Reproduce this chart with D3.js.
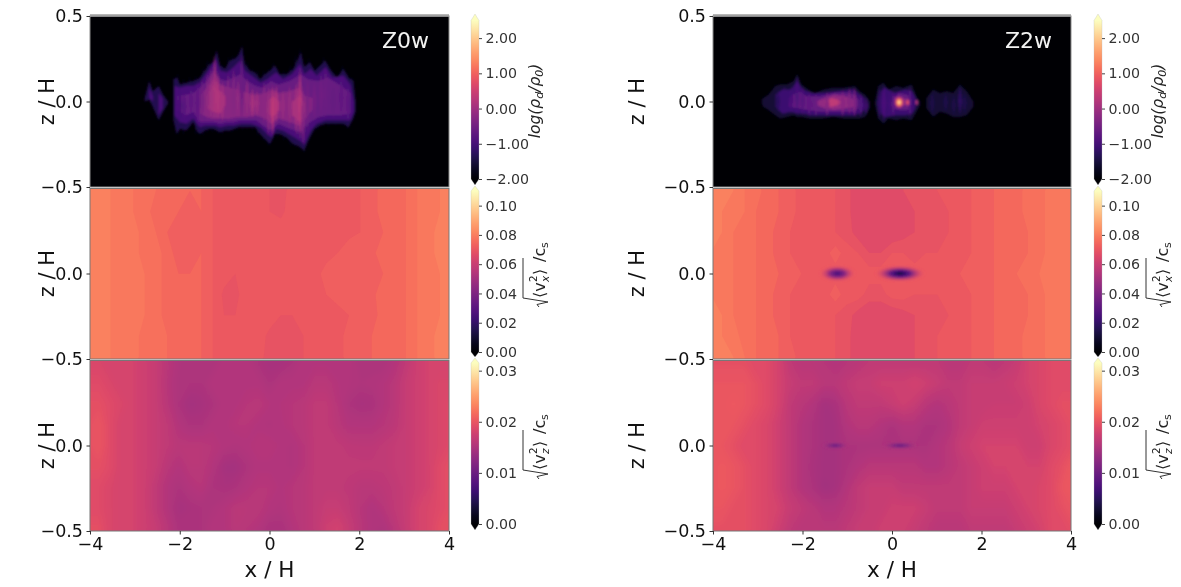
<!DOCTYPE html>
<html>

<head>
    <meta charset="utf-8">
    <style>
        body {
            margin: 0;
            background: white;
        }

        svg {
            display: block;
            font-family: 'DejaVu Sans', sans-serif;
            filter: blur(0.35px);
        }

        .panel-axis text {
            font-family: 'DejaVu Sans', sans-serif;
            font-size: 17.5px;
            fill: #111;
        }

        .panel-axis line {
            stroke: #333;
        }

        .panel-axis .domain {
            display: none;
        }

        .cbar-axis text {
            font-family: 'DejaVu Sans', sans-serif;
            font-size: 14.2px;
            fill: #333;
        }

        .cbar-axis line {
            stroke: #444;
        }

        .cbar-axis .domain {
            display: none;
        }
    </style>
</head>

<body>
    <svg width="1181" height="587"></svg>

    <script src="https://d3js.org/d3.v7.min.js"></script>

    <script>
        // tick labels
        let xTicks = [-4, -2, 0, 2, 4];
        let zTicks = [-0.5, 0, 0.5];
        let rhoTicks = [-2, -1, 0, 1, 2];
        let vxTicks = [0, 20, 40, 60, 80, 100];   // 1e-3 c_s
        let vzTicks = [0, 10, 20, 30];            // 1e-3 c_s

        // log density outlines, each blob is a list of [x, z top, z bottom]
        let z0Outer = [
            [[-2.78, .02, 0], [-2.68, .12, .01], [-2.6, .06, -.03], [-2.47, .09, -.11], [-2.37, .04, -.06], [-2.26, 0, -.01]],
            [[-2.14, .13, -.11], [-2.07, .14, -.19], [-1.99, .10, -.16], [-1.85, .11, -.17], [-1.70, .12, -.12], [-1.60, .13, -.18],
            [-1.55, .14, -.19], [-1.44, .18, -.17], [-1.33, .22, -.16], [-1.25, .23, -.16], [-1.18, .30, -.17], [-1.10, .21, -.18],
            [-.99, .19, -.17], [-.88, .24, -.17], [-.77, .25, -.16], [-.69, .27, -.15], [-.62, .32, -.15], [-.55, .22, -.15],
            [-.43, .18, -.15], [-.32, .17, -.15], [-.21, .13, -.19], [-.10, .16, -.22], [.01, .18, -.25], [.12, .21, -.19],
            [.23, .16, -.19], [.38, .16, -.21], [.53, .19, -.25], [.64, .25, -.26], [.70, .29, -.27], [.77, .20, -.29],
            [.90, .23, -.21], [1.01, .18, -.16], [1.13, .21, -.14], [1.24, .24, -.13], [1.35, .19, -.13], [1.50, .14, -.13],
            [1.65, .19, -.13], [1.76, .14, -.15], [1.87, .12, -.10], [1.92, 0, -.06]]
        ];
        let z0Mid = [
            [[-2.68, .08, .02], [-2.6, .03, 0]],
            [[-2.47, .05, -.08], [-2.38, .02, -.04]],
            [[-2.12, .09, -.08], [-2.0, .08, -.12], [-1.85, .09, -.13], [-1.7, .09, -.10], [-1.55, .11, -.15], [-1.44, .15, -.14],
            [-1.33, .19, -.14], [-1.2, .25, -.14], [-1.1, .18, -.15], [-.95, .17, -.14], [-.8, .2, -.14], [-.65, .24, -.13],
            [-.55, .18, -.13], [-.4, .15, -.13], [-.2, .11, -.15], [-.05, .13, -.19], [.05, .15, -.21], [.15, .17, -.16],
            [.3, .13, -.17], [.5, .16, -.2], [.68, .22, -.23], [.78, .16, -.25], [.92, .19, -.17], [1.05, .15, -.13],
            [1.25, .2, -.11], [1.4, .14, -.11], [1.65, .15, -.11], [1.8, .1, -.11], [1.88, 0, -.06]]
        ];
        let z0Inner = [
            [[-2.05, .03, -.05], [-1.85, .04, -.08], [-1.7, .05, -.06], [-1.55, .08, -.12], [-1.4, .12, -.12], [-1.25, .18, -.12],
            [-1.1, .13, -.13], [-.95, .12, -.12], [-.8, .14, -.12], [-.65, .16, -.11], [-.5, .12, -.11], [-.3, .09, -.11],
            [-.15, .08, -.14], [.03, .12, -.17], [.2, .1, -.13], [.45, .12, -.16], [.7, .16, -.18], [.85, .13, -.13],
            [1.1, .12, -.09], [1.3, .14, -.08], [1.6, .09, -.08], [1.8, .05, -.07]]
        ];
        let z0Bright = [
            [[-1.55, .03, -.07], [-1.4, .08, -.09], [-1.25, .13, -.1], [-1.1, .1, -.1], [-.9, .08, -.1], [-.7, .07, -.09],
            [-.5, .05, -.09], [-.3, .04, -.08], [-.1, .05, -.1], [.05, .07, -.13], [.2, .05, -.1], [.45, .06, -.12],
            [.65, .08, -.14], [.8, .03, -.1], [.95, .02, -.05]]
        ];
        let z0Core = [
            [[-1.4, .03, -.04], [-1.25, .1, -.06], [-1.1, .06, -.07], [-.98, .03, -.02]],
            [[-.05, 0, -.07], [.08, .03, -.09], [.22, 0, -.05]],
            [[.5, 0, -.08], [.68, .03, -.12], [.8, -.01, -.06]]
        ];
        let z0Levels = [-1.35, -0.95, -0.6, -0.25, 0.1];

        // thin vertical streaks on top: [x, z top, z bottom, log density]
        let z0Streaks = [
            // faint spikes past the outline
            [-2.04, .17, -.2, -1.55], [-1.92, .14, -.2, -1.55], [-1.78, .15, -.16, -1.55], [-1.64, .16, -.2, -1.55], [-1.48, .21, -.21, -1.5],
            [-1.38, .25, -.19, -1.5], [-1.28, .27, -.19, -1.5], [-1.14, .26, -.2, -1.5], [-1.04, .23, -.2, -1.55], [-.92, .27, -.19, -1.5],
            [-.82, .28, -.19, -1.5], [-.72, .29, -.18, -1.5], [-.6, .34, -.18, -1.5], [-.5, .24, -.17, -1.55], [-.38, .2, -.18, -1.55],
            [-.26, .19, -.21, -1.55], [-.14, .19, -.24, -1.5], [-.03, .2, -.27, -1.5], [.08, .24, -.24, -1.5], [.18, .2, -.22, -1.55],
            [.32, .19, -.24, -1.55], [.46, .22, -.27, -1.5], [.58, .28, -.28, -1.5], [.68, .32, -.29, -1.5], [.78, .23, -.31, -1.5],
            [.88, .26, -.23, -1.5], [1.06, .22, -.18, -1.55], [1.2, .27, -.16, -1.5], [1.32, .22, -.16, -1.55], [1.48, .17, -.15, -1.6],
            [1.62, .22, -.15, -1.55], [1.74, .17, -.17, -1.55], [1.85, .15, -.12, -1.6],
            // brighter columns inside the body
            [-2.0, .10, -.14, -1.0], [-1.9, .06, -.12, -.85], [-1.75, .08, -.08, -.75], [-1.6, .12, -.14, -.7], [-1.5, .14, -.13, -.45],
            [-1.38, .17, -.12, -.2], [-1.3, .2, -.12, 0], [-1.22, .27, -.12, .15], [-1.15, .18, -.12, .2], [-1.05, .12, -.12, .1],
            [-.92, .17, -.13, -.25], [-.8, .2, -.12, -.3], [-.7, .14, -.1, -.15], [-.62, .28, -.12, -.55], [-.5, .14, -.1, -.1],
            [-.38, .08, -.1, .15], [-.28, .07, -.09, .05], [-.12, .12, -.14, -.2], [-.02, .1, -.2, -.05], [.07, .1, -.2, .35],
            [.15, .1, -.13, .25], [.3, .07, -.12, -.05], [.45, .1, -.15, -.1], [.6, .12, -.2, .1], [.68, .2, -.22, .25],
            [.75, .1, -.26, -.25], [.85, .14, -.18, -.45], [1.0, .12, -.11, -.45], [1.15, .17, -.1, -.5], [1.25, .2, -.1, -.55],
            [1.42, .1, -.1, -.65], [1.6, .15, -.1, -.7], [1.75, .1, -.12, -.75]
        ];

        let z2Outer = [
            [[-2.91, .01, -.01], [-2.88, .02, -.03], [-2.76, .04, -.05], [-2.61, .09, -.08], [-2.5, .10, -.10], [-2.35, .10, -.09],
            [-2.2, .12, -.08], [-2.12, .16, -.09], [-2.02, .10, -.09], [-1.87, .07, -.10], [-1.72, .05, -.10], [-1.53, .07, -.10],
            [-1.31, .08, -.09], [-1.09, .08, -.10], [-.83, .09, -.10], [-.72, .06, -.10], [-.6, .04, -.09], [-.49, 0, -.04]],
            [[-.38, 0, -.02], [-.31, .09, -.10], [-.19, .11, -.13], [-.08, .07, -.10], [.1, .09, -.11], [.25, .08, -.10],
            [.44, .10, -.11], [.55, .03, -.06], [.63, 0, -.02]],
            [[.77, .02, -.04], [.92, .07, -.09], [1.07, .05, -.06], [1.22, .06, -.07], [1.37, .05, -.09], [1.52, .10, -.09],
            [1.67, .06, -.08], [1.82, 0, -.03]]
        ];
        let z2Mid = [
            [[-2.6, .04, -.03], [-2.45, .07, -.07], [-2.25, .07, -.06], [-2.12, .12, -.07], [-2.0, .07, -.07], [-1.8, .05, -.08],
            [-1.5, .05, -.08], [-1.2, .06, -.08], [-.85, .07, -.08], [-.72, .04, -.07], [-.62, .02, -.05]],
            [[-.25, .06, -.07], [-.15, .08, -.09], [.05, .05, -.08], [.3, .07, -.08], [.45, .06, -.07], [.52, .02, -.04]]
        ];
        let z2Inner = [
            [[-2.3, .02, -.03], [-2.1, .06, -.04], [-1.9, .03, -.05], [-1.6, .03, -.06], [-1.3, .05, -.06], [-1.0, .05, -.06],
            [-.82, .04, -.06], [-.75, .01, -.03]],
            [[.02, .02, -.04], [.15, .05, -.05], [.35, .04, -.05], [.42, .01, -.02]]
        ];
        let z2Bright = [
            [[-1.7, 0, -.02], [-1.5, .02, -.04], [-1.3, .04, -.05], [-1.05, .03, -.04], [-.85, .01, -.03]],
            [[.05, .02, -.02], [.18, .03, -.03], [.32, .01, -.02]]
        ];
        let z2Core = [
            [[-1.5, 0, -.02], [-1.35, .02, -.03], [-1.2, .01, -.02]]
        ];
        let z2Levels = [-1.55, -1.1, -0.65, -0.15, 0.35];
        let z2Streaks = [
            [-2.55, .07, -.07, -1.3], [-2.4, .09, -.08, -1.1], [-2.25, .09, -.07, -1.0], [-2.12, .15, -.08, -.95], [-2.0, .09, -.08, -.85],
            [-1.85, .06, -.09, -.7], [-1.7, .05, -.09, -.6], [-1.45, .06, -.09, -.35], [-1.1, .07, -.09, -.25], [-.95, .08, -.08, -.3],
            [-.84, .08, -.09, -.3], [-.7, .05, -.09, -.8], [-.58, .03, -.08, -1.0], [-.28, .08, -.1, -1.1], [-.18, .1, -.12, -.9],
            [-.05, .06, -.09, -1.0], [.03, .06, -.09, -.7], [.4, .09, -.1, -.8], [.5, .04, -.05, -1.1],
            [.9, .06, -.08, -1.4], [1.05, .04, -.05, -1.5], [1.2, .05, -.06, -1.35], [1.38, .04, -.08, -1.4], [1.52, .09, -.08, -1.2], [1.62, .05, -.07, -1.35]
        ];

        // small bright or dark spots: [x, z, half width, half height, value]
        let z2RhoSpots = [[.16, -.005, .12, .04, 2.35], [.35, -.005, .055, .028, 1.0], [.55, -.005, .04, .022, .4], [-1.18, -.005, .04, .022, .45]];
        let z2VxSpots = [[-1.22, 0, .42, .05, 24], [.18, 0, .58, .05, 10]];
        let z2VzSpots = [[-1.27, 0, .32, .024, 10], [.18, 0, .42, .024, 10]];

        // velocity maps, rows from z = 0.5 down to z = -0.5, columns from x = -4 to x = 4 (1e-3 c_s)
        let vxZ0 = [
            [81, 80, 80, 79, 78, 77, 76, 75, 74, 74, 74, 72, 71, 71, 71, 71, 70, 69, 71, 71, 71, 71, 71, 71, 72, 73, 75, 75, 76, 78, 79, 80, 81],
            [82, 81, 80, 79, 78, 77, 75, 74, 74, 73, 74, 72, 71, 71, 71, 71, 70, 69.5, 71, 71, 71, 71, 71, 71, 72, 73, 75, 75, 76, 78, 79, 80, 81],
            [82, 81, 80, 79, 79, 77, 76, 74, 73, 72.5, 73, 72, 70.5, 71, 71, 71, 71, 71, 70.5, 71, 71, 71, 71, 71.5, 72, 72.5, 74, 75, 76, 78, 79, 81, 82],
            [82, 81, 80, 79, 79, 77, 77, 75, 73, 72, 74, 72, 70.5, 71, 71, 71, 70, 71, 71, 71, 71, 71, 72, 73, 74, 73.5, 75, 75, 76, 78, 79, 81, 82],
            [81, 81, 80, 79, 79, 78, 77, 75, 74, 74, 74, 72, 71, 70, 71, 71, 70, 71, 71, 71, 71, 73, 74, 73, 74, 73.5, 74, 75, 76, 78, 79, 80, 81],
            [81, 81, 80, 79, 79, 78, 77, 75, 74, 74, 74, 72, 69.5, 69.5, 71, 71, 71, 71, 71, 71, 71, 72, 73, 72, 72.5, 73.5, 75, 75, 76, 78, 79, 80, 81],
            [82, 81, 80, 79, 79, 78, 77, 75, 74, 74, 74, 72, 70, 70, 71, 71, 71, 70, 70, 71, 71, 71, 71, 72, 73, 73, 75, 75, 76, 78, 79, 80, 82],
            [82, 81, 80, 79, 79, 77, 77, 76, 75, 74, 74, 72, 71, 71, 71, 71, 69.5, 69, 69, 70, 71, 71, 71, 73, 72.5, 74, 75, 75, 76, 78, 79, 81, 82],
            [82, 81, 80, 79, 79, 77, 77, 76, 75, 74, 74, 72, 71, 71, 71, 71, 69, 68.5, 69, 70, 71, 71, 71, 73, 73, 74, 75, 75, 76, 78, 79, 81, 82]
        ];
        let vxZ2 = [
            [80, 80, 80, 78, 77, 75, 74, 73, 71, 70, 70, 70, 69, 66, 66, 66, 66, 68, 68, 69, 70, 70, 70, 72, 73, 74, 75, 75, 77, 77, 79, 79, 79],
            [80, 80, 79, 78, 76, 75, 74, 73, 71, 70, 70, 70, 69, 66, 66, 66, 66, 67, 68, 68, 69, 70, 70, 72, 73, 74, 75, 75, 77, 77, 79, 79, 79],
            [80, 80, 78, 77, 76, 75, 73, 72, 71, 70, 70, 70, 69, 67, 66, 66, 66, 67, 68, 68, 69, 70, 70, 72, 73, 74, 75, 75, 76, 77, 79, 79, 79],
            [80, 79, 78, 77, 76, 75, 73, 72, 71, 71, 71, 73, 71, 70, 68, 68, 70, 70, 69, 70, 70, 71, 71, 72, 73, 74, 75, 75, 76, 77, 79, 79, 79],
            [80, 79, 78, 77, 76, 75, 74, 73, 72, 71, 71, 71, 71, 71, 71, 71, 71, 71, 71, 71, 71, 71, 72, 72, 73, 74, 75, 76, 77, 78, 79, 79, 79],
            [80, 79, 78, 77, 76, 75, 73, 72, 71, 71, 71, 73, 71, 71, 69, 69, 71, 71, 70, 70, 70, 71, 71, 72, 73, 74, 75, 75, 76, 77, 79, 79, 79],
            [80, 80, 78, 77, 76, 75, 73, 72, 71, 70, 70, 70, 69, 67, 66, 66, 66, 67, 68, 69, 69, 70, 71, 72, 73, 74, 75, 75, 76, 77, 79, 79, 79],
            [80, 80, 79, 77, 76, 75, 74, 72, 71, 70, 70, 70, 69, 66, 66, 66, 66, 66, 68, 69, 70, 70, 70, 72, 73, 74, 75, 75, 77, 77, 79, 79, 79],
            [80, 80, 80, 78, 76, 75, 74, 73, 71, 70, 70, 70, 69, 66, 66, 66, 66, 66, 68, 69, 70, 70, 70, 72, 73, 74, 75, 75, 77, 77, 79, 79, 79]
        ];
        let vzZ0 = [
            [18.5, 18.5, 18, 18, 18, 17.5, 17, 16, 15.2, 15, 15, 15, 15.5, 15.5, 15.5, 15, 14.6, 14.6, 15, 15.5, 15.5, 15.5, 15.5, 15.5, 15, 15, 15, 15.5, 16.5, 17.5, 18, 18, 18],
            [19, 19, 18.5, 18, 18, 17.5, 17, 15.8, 15, 15, 15, 15.5, 15.5, 15.5, 15.5, 15.5, 15, 15.5, 15.5, 15.5, 16, 16, 15.6, 15.4, 15.2, 15.3, 15.5, 16, 17, 17.5, 18, 18.5, 18.5],
            [19.5, 19.5, 19, 18.5, 18, 17.5, 17, 16, 15, 14.4, 14.6, 15, 15.5, 15.5, 15.8, 16, 15.6, 15.6, 15.8, 16, 16.5, 16.5, 15.8, 15, 14.7, 14.8, 15.5, 16, 17, 17.5, 18, 18.5, 19],
            [19.5, 20, 19, 18, 18, 17.5, 17, 16.5, 15.5, 15, 15, 15.5, 15.5, 15.8, 15.8, 15.5, 15.3, 15.5, 15.8, 16, 16.5, 16.5, 16, 15.5, 15.5, 15.5, 15.8, 16.2, 17, 17.5, 18, 18.5, 19],
            [19.5, 20, 19, 18, 18, 17.5, 17, 16.5, 16, 16, 16, 15.8, 15.5, 15.3, 15.5, 15.8, 15.8, 15.5, 15.3, 15.8, 16.5, 16.5, 16.5, 16.3, 16.2, 16.2, 16.5, 16.8, 17, 17.5, 18, 18.5, 19],
            [19.5, 19.5, 19, 18, 18, 17.5, 17, 16, 15.5, 16, 16, 15.5, 14.5, 14.4, 15, 15.5, 15.5, 15.5, 15.3, 15.8, 16.5, 16.5, 16.5, 16.5, 16.5, 16.5, 16.5, 16.8, 17, 17.5, 18, 19, 19.5],
            [19, 19, 18.5, 18, 18, 17.5, 16.5, 15.5, 15, 15.5, 15.8, 15, 14.8, 15, 15.5, 15.8, 15.8, 15.5, 15.8, 16, 16.5, 16.5, 16.5, 16.3, 16, 16, 16.2, 16.5, 17, 17.5, 18, 19, 19.5],
            [19, 19, 18.5, 18, 18, 17.5, 16.5, 15.5, 14.6, 14.8, 15, 15.2, 15.5, 16, 16, 16, 15.5, 15.3, 15.8, 16, 16.5, 17, 17, 16.5, 15.8, 15.3, 15.8, 16.5, 17, 18, 18.5, 19, 19.5],
            [19.5, 19.5, 18.5, 18, 18, 17.5, 17, 16, 15, 14.8, 15, 15.5, 15.5, 16, 15.8, 15.5, 14.8, 14.8, 15.5, 16, 16.5, 17.5, 18, 17, 16, 15.3, 15, 16, 17, 18, 18.5, 19.5, 19.5]
        ];
        let vzZ2 = [
            [19.5, 19.5, 19.5, 19.5, 19, 19, 18, 16.5, 16, 16, 15.8, 15.5, 15.8, 16, 16.5, 16.5, 16.5, 16.5, 16.5, 16.5, 16.5, 16, 16, 16.5, 16.5, 16, 16.5, 17, 18, 18.5, 19, 19, 19],
            [20, 20, 20, 20, 19.5, 19, 18, 17, 16.5, 16.5, 16, 16, 16.5, 17, 17, 17.5, 17.5, 17.5, 18, 17.5, 17, 16.5, 16.5, 17, 17, 17, 17.2, 17.5, 18, 18.5, 19, 19, 19],
            [20, 20, 20.5, 20, 19.5, 19, 18, 16.5, 16, 15.5, 14.5, 14.8, 16, 16.5, 16.5, 16.5, 17, 17.5, 17, 16, 15.5, 16, 16.5, 17, 17, 17.2, 17.2, 17.2, 17.5, 18.5, 19, 19.5, 19.5],
            [20, 20, 20, 19.5, 19, 18.5, 17.5, 16.5, 15.5, 15, 14.5, 14.5, 15.5, 16, 16, 15.5, 15, 15.5, 15.5, 15, 15, 15.5, 16.5, 17, 17.5, 17.5, 17.5, 17.5, 17.5, 18, 18.5, 19, 19.5],
            [20, 20, 19.5, 19, 19, 18.5, 17.5, 16.5, 15.5, 15, 14.5, 14.5, 15, 15, 15, 15, 15, 15, 15, 15, 15.5, 16, 17, 17.5, 18, 18, 18, 18, 17.5, 17.5, 18.5, 19, 19.5],
            [20, 20.5, 20, 19.5, 19, 18.5, 17.5, 16.5, 15.5, 14.8, 14.5, 14.5, 15, 15.5, 16, 16, 16, 16, 16, 15.5, 15.5, 16, 16.5, 17, 17.5, 18, 18, 18, 18, 18, 19, 19.5, 20.5],
            [20, 20.5, 20, 19.5, 19, 18.5, 17.5, 16.5, 15.5, 15, 14.3, 14.5, 15.5, 16.5, 17, 17, 17, 16.5, 16.5, 16.5, 16.5, 16.5, 16.5, 17, 17.5, 17.5, 17.5, 18, 18, 18.5, 19, 20, 20.5],
            [20, 20, 19.5, 19.5, 19, 18.5, 18, 17, 16.5, 16, 15.5, 15.5, 16, 16.5, 17, 17, 17.5, 17.5, 17.5, 17, 16.5, 16.5, 16.5, 17, 17, 17, 17, 17.5, 18, 18.5, 19, 19.5, 20],
            [19.5, 19.5, 19.5, 19.5, 19, 18.5, 17.5, 16.5, 16, 16, 16, 16, 16.5, 17, 17, 17.5, 17.5, 17.5, 17, 16.5, 16, 16, 16, 16.5, 16.5, 16.5, 16.5, 17, 17.5, 18, 19, 19, 19.5]
        ];

        let svg = d3.select("svg");
        let defs = svg.append("defs");

        function addBlur(id, size) {
            defs.append("filter").attr("id", id).attr("x", "-5%").attr("y", "-5%").attr("width", "110%").attr("height", "110%")
                .append("feGaussianBlur").attr("stdDeviation", size);
        }
        addBlur("dustBlur", 0.8);
        addBlur("vxBlur", 0.7);
        addBlur("vzBlur", 2.6);
        addBlur("spotBlur", 0.8);

        let columns = [
            { left: 90, right: 449, labelX: 54, cbarX: 471, name: "Z0w", nameX: 382, levels: z0Levels, blobs: [z0Outer, z0Mid, z0Inner, z0Bright, z0Core], streaks: z0Streaks, rhoSpots: [], vx: vxZ0, vxSpots: [], vz: vzZ0, vzSpots: [] },
            { left: 713, right: 1071, labelX: 644, cbarX: 1094, name: "Z2w", nameX: 1005, levels: z2Levels, blobs: [z2Outer, z2Mid, z2Inner, z2Bright, z2Core], streaks: z2Streaks, rhoSpots: z2RhoSpots, vx: vxZ2, vxSpots: z2VxSpots, vz: vzZ2, vzSpots: z2VzSpots }
        ];

        let rows = [
            { top: 16, bottom: 187, domain: [-2, 2.5], range: [179, 20.5], tips: [185, 14], ticks: rhoTicks, labels: zTicks, format: d3.format(".2f") },
            { top: 188.5, bottom: 359, domain: [0, 110], range: [352, 191], tips: [357, 186], ticks: vxTicks, labels: zTicks.slice(0, 2), format: d => d3.format(".2f")(d / 1000) },
            { top: 360.5, bottom: 531, domain: [0, 31.5], range: [524, 363], tips: [530, 358], ticks: vzTicks, labels: zTicks.slice(0, 2), format: d => d3.format(".2f")(d / 1000) }
        ];

        let spotCount = 0;

        function drawSpots(group, spots, x, z, color, base) {
            spots.forEach(function (s) {
                spotCount += 1;
                let id = "spot" + spotCount;
                let grad = defs.append("radialGradient").attr("id", id);
                d3.range(0, 1.01, 0.1).forEach(function (t) {
                    grad.append("stop")
                        .attr("offset", t)
                        .attr("stop-color", color(s[4] + (base - s[4]) * t))
                        .attr("stop-opacity", t < 0.4 ? 1 : (1 - t) / 0.6);
                });
                group.append("ellipse")
                    .attr("cx", x(s[0]))
                    .attr("cy", z(s[1]))
                    .attr("rx", x(s[0] + s[2]) - x(s[0]))
                    .attr("ry", z(s[1] - s[3]) - z(s[1]))
                    .attr("fill", `url(#${id})`);
            });
        }

        // filled contours of a velocity map
        function drawField(group, field, thresholds, step, col, row, color, blur) {
            let n = field[0].length;
            let m = field.length;
            let gx = d3.scaleLinear().domain([0, n]).range([col.left - 8, col.right + 8]);
            let gy = d3.scaleLinear().domain([0, m]).range([row.top - 8, row.bottom + 8]);
            let project = d3.geoTransform({
                point: function (a, b) { this.stream.point(gx(a), gy(b)); }
            });
            let path = d3.geoPath(project);
            let bands = d3.contours().size([n, m]).thresholds(thresholds)(d3.merge(field));

            group.append("g")
                .attr("filter", `url(#${blur})`)
                .selectAll("path")
                .data(bands)
                .join("path")
                .attr("d", path)
                .attr("fill", d => color(d.value + step / 2));
        }

        columns.forEach(function (col, c) {
            rows.forEach(function (row, r) {
                let clipId = `clip${c}${r}`;
                defs.append("clipPath").attr("id", clipId).append("rect")
                    .attr("x", col.left).attr("y", row.top)
                    .attr("width", col.right - col.left).attr("height", row.bottom - row.top);

                let x = d3.scaleLinear().domain([-4, 4]).range([col.left, col.right]);
                let z = d3.scaleLinear().domain([-0.5, 0.5]).range([r == 0 ? 187 : row.bottom, r == 0 ? 16 : row.bottom - 171]);
                let color = d3.scaleSequential(d3.interpolateMagma).domain(row.domain);

                let plot = svg.append("g").attr("clip-path", `url(#${clipId})`);

                if (r == 0) {
                    plot.append("rect")
                        .attr("x", col.left).attr("y", row.top)
                        .attr("width", col.right - col.left).attr("height", row.bottom - row.top)
                        .attr("fill", color(-2));

                    let area = d3.area()
                        .x(d => x(d[0]))
                        .y0(d => z(d[1]))
                        .y1(d => z(d[2]));

                    let dust = plot.append("g").attr("filter", "url(#dustBlur)");

                    // streak is a thin spindle around its column
                    let spindle = function (d) {
                        let mid = (d[1] + d[2]) / 2;
                        return area([[d[0] - 0.05, mid, mid], [d[0], d[1], d[2]], [d[0] + 0.05, mid, mid]]);
                    };

                    // faint spikes go under the outlines, the rest on top
                    dust.append("g").selectAll("path")
                        .data(col.streaks.filter(d => d[3] <= -1.5))
                        .join("path")
                        .attr("d", spindle)
                        .attr("fill", d => color(d[3]));

                    col.blobs.forEach(function (blobs, i) {
                        dust.append("g").selectAll("path")
                            .data(blobs)
                            .join("path")
                            .attr("d", area)
                            .attr("fill", color(col.levels[i]));
                    });

                    dust.append("g").selectAll("path")
                        .data(col.streaks.filter(d => d[3] > -1.5))
                        .join("path")
                        .attr("d", spindle)
                        .attr("fill", d => color(d[3]))
                        .attr("fill-opacity", 0.8);

                    drawSpots(dust, col.rhoSpots, x, z, color, -0.2);
                } else {
                    let field = r == 1 ? col.vx : col.vz;
                    let step = r == 1 ? 2 : 0.2;
                    let lowest = d3.min(d3.merge(field));
                    let thresholds = d3.range(Math.floor(lowest / step) * step, d3.max(d3.merge(field)) + step, step);
                    plot.append("rect")
                        .attr("x", col.left).attr("y", row.top)
                        .attr("width", col.right - col.left).attr("height", row.bottom - row.top)
                        .attr("fill", color(d3.median(d3.merge(field))));
                    drawField(plot, field, thresholds, step, col, row, color, r == 1 ? "vxBlur" : "vzBlur");
                    let spotLayer = plot.append("g").attr("filter", "url(#spotBlur)");
                    drawSpots(spotLayer, r == 1 ? col.vxSpots : col.vzSpots, x, z, color, r == 1 ? 71 : 15.5);
                }

                // frame, the top panel has a wider light edge on top
                svg.append("rect")
                    .attr("x", col.left).attr("y", row.top)
                    .attr("width", col.right - col.left).attr("height", row.bottom - row.top)
                    .attr("fill", "none")
                    .attr("stroke", r == 0 ? "#8c8c8c" : "#777")
                    .attr("stroke-width", 1);
                if (r == 0) {
                    svg.append("line")
                        .attr("x1", col.left).attr("x2", col.right)
                        .attr("y1", 15.5).attr("y2", 15.5)
                        .attr("stroke", "#a0a0a0")
                        .attr("stroke-width", 2.5);
                }

                let zAxis = d3.axisLeft(z)
                    .tickValues(row.labels)
                    .tickFormat(d3.format(".1f"))
                    .tickSize(3.5)
                    .tickPadding(3.5);
                svg.append("g")
                    .attr("class", "panel-axis")
                    .attr("transform", `translate(${col.left},0)`)
                    .call(zAxis);

                svg.append("text")
                    .attr("transform", `translate(${col.labelX},${z(0)}) rotate(-90)`)
                    .attr("text-anchor", "middle")
                    .attr("font-size", 21)
                    .attr("fill", "#111")
                    .text("z / H");

                if (r == 0) {
                    svg.append("text")
                        .attr("x", col.nameX).attr("y", 48)
                        .attr("font-size", 22)
                        .attr("fill", "#f2f2f2")
                        .text(col.name);
                }

                if (r == 2) {
                    let xAxis = d3.axisBottom(x)
                        .tickValues(xTicks)
                        .tickFormat(d3.format("d"))
                        .tickSize(3.5)
                        .tickPadding(3.5);
                    svg.append("g")
                        .attr("class", "panel-axis")
                        .attr("transform", `translate(0,${row.bottom})`)
                        .call(xAxis);
                    svg.append("text")
                        .attr("x", x(0)).attr("y", 577)
                        .attr("text-anchor", "middle")
                        .attr("font-size", 21.5)
                        .attr("fill", "#111")
                        .text("x / H");
                }

                // colorbar
                let cy = d3.scaleLinear().domain(row.domain).range(row.range);
                let gradId = `cbar${c}${r}`;
                let grad = defs.append("linearGradient").attr("id", gradId)
                    .attr("gradientUnits", "userSpaceOnUse")
                    .attr("x1", 0).attr("x2", 0)
                    .attr("y1", row.range[0]).attr("y2", row.range[1]);
                d3.range(0, 1.001, 0.05).forEach(function (t) {
                    grad.append("stop").attr("offset", t).attr("stop-color", d3.interpolateMagma(t));
                });

                let bx0 = col.cbarX, bx1 = col.cbarX + 8, bm = col.cbarX + 4;
                let outline = d3.path();
                outline.moveTo(bm, row.tips[1]);
                outline.lineTo(bx1, row.range[1]);
                outline.lineTo(bx1, row.range[0]);
                outline.lineTo(bm, row.tips[0]);
                outline.lineTo(bx0, row.range[0]);
                outline.lineTo(bx0, row.range[1]);
                outline.closePath();

                svg.append("path")
                    .attr("d", outline.toString())
                    .attr("fill", `url(#${gradId})`)
                    .attr("stroke", "#bbb")
                    .attr("stroke-width", 0.3);

                let cAxis = d3.axisRight(cy)
                    .tickValues(row.ticks)
                    .tickFormat(row.format)
                    .tickSize(3)
                    .tickPadding(3.5);
                svg.append("g")
                    .attr("class", "cbar-axis")
                    .attr("transform", `translate(${bx1},0)`)
                    .call(cAxis);
            });

            // colorbar labels
            let lx = col.cbarX + 74;
            let rho = svg.append("text")
                .attr("transform", `translate(${lx - 5},101) rotate(-90)`)
                .attr("text-anchor", "middle")
                .attr("font-size", 15.5)
                .attr("font-style", "italic")
                .attr("fill", "#222");
            rho.append("tspan").text("log(ρ");
            rho.append("tspan").attr("dy", 3).attr("font-size", 11).text("d");
            rho.append("tspan").attr("dy", -3).text("/ρ");
            rho.append("tspan").attr("dy", 3).attr("font-size", 11).text("0");
            rho.append("tspan").attr("dy", -3).text(")");

            [["x", 307], ["z", 479]].forEach(function (item) {
                let g = svg.append("g")
                    .attr("transform", `translate(${lx},${item[1]}) rotate(-90)`)
                    .attr("fill", "#222");
                g.append("path")
                    .attr("d", "M0,-6 L2.5,-8 L5,3 L9,-22 L49,-22")
                    .attr("fill", "none")
                    .attr("stroke", "#333")
                    .attr("stroke-width", 1);
                g.append("text").attr("x", 9).attr("font-size", 16).text("⟨v");
                g.append("text").attr("x", 25).attr("y", -8).attr("font-size", 10.5).text("2");
                g.append("text").attr("x", 25).attr("y", 4).attr("font-size", 10.5).attr("font-style", "italic").text(item[0]);
                g.append("text").attr("x", 32).attr("font-size", 16).text("⟩");
                g.append("text").attr("x", 45).attr("font-size", 16).text("/c");
                g.append("text").attr("x", 59).attr("y", 3).attr("font-size", 11).text("s");
            });
        });
    </script>
</body>

</html>
